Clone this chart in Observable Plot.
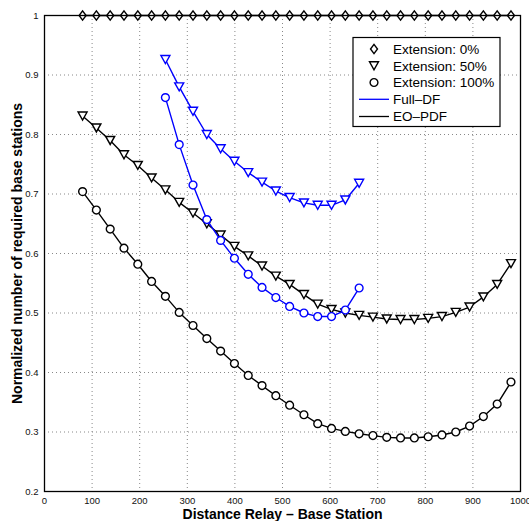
<!DOCTYPE html>
<html><head><meta charset="utf-8">
<script src="https://cdn.jsdelivr.net/npm/d3@7"></script>
<script src="https://cdn.jsdelivr.net/npm/@observablehq/plot@0.6"></script>
<style>body{margin:0;background:#fff}#chart svg{display:block}</style>
</head><body><div id="chart"></div><script>
// Distance Relay – Base Station (x values)
const distance = [80,109,138,167,196,225,254,283,312,341,370,399,428,457,486,515,545,574,603,632,661,690,719,748,777,806,835,864,893,922,951,980];
// EO-PDF series
const eoExt0 = [1,1,1,1,1,1,1,1,1,1,1,1,1,1,1,1,1,1,1,1,1,1,1,1,1,1,1,1,1,1,1,1];
const eoExt50 = [0.831,0.811,0.790,0.766,0.748,0.727,0.707,0.686,0.668,0.650,0.631,0.612,0.596,0.579,0.562,0.548,0.531,0.515,0.506,0.500,0.496,0.493,0.490,0.489,0.489,0.491,0.494,0.501,0.510,0.527,0.548,0.583];
const eoExt100 = [0.704,0.673,0.641,0.609,0.582,0.553,0.528,0.501,0.479,0.457,0.436,0.415,0.395,0.378,0.361,0.345,0.329,0.314,0.306,0.301,0.297,0.294,0.291,0.290,0.290,0.292,0.295,0.300,0.310,0.326,0.347,0.384];
// Full-DF series
const fullDistance = [254,283,312,341,370,399,428,457,486,515,545,574,603,632,661];
const fullExt50 = [0.926,0.880,0.839,0.800,0.776,0.755,0.736,0.720,0.705,0.694,0.685,0.681,0.681,0.690,0.718];
const fullExt100 = [0.862,0.783,0.715,0.657,0.622,0.592,0.565,0.543,0.526,0.511,0.500,0.494,0.494,0.505,0.542];
// ticks and labels
const xTicks = [0,100,200,300,400,500,600,700,800,900,1000];
const yTicks = [0.2,0.3,0.4,0.5,0.6,0.7,0.8,0.9,1];
const xLabel = "Distance Relay – Base Station";
const yLabel = "Normalized number of required base stations";
const legendItems = [
  {label: "Extension: 0%", kind: "diamond"},
  {label: "Extension: 50%", kind: "tri"},
  {label: "Extension: 100%", kind: "circle"},
  {label: "Full–DF", kind: "line", color: "#0000ff"},
  {label: "EO–PDF", kind: "line", color: "#000000"}
];

const BLUE = "#0000ff";
const diamond = {draw(ctx){ ctx.moveTo(0,-4.7); ctx.lineTo(3.5,0); ctx.lineTo(0,4.7); ctx.lineTo(-3.5,0); ctx.closePath(); }};
const triDown = {draw(ctx){ ctx.moveTo(-4.5,-4); ctx.lineTo(4.5,-4); ctx.lineTo(0,4); ctx.closePath(); }};
const circ = {draw(ctx){ ctx.moveTo(3.9,0); ctx.arc(0,0,3.9,0,2*Math.PI); ctx.closePath(); }};

const mk = (xs, ys) => xs.map((x,i)=>({x, y: ys[i]}));
const s0 = mk(distance, eoExt0), s50 = mk(distance, eoExt50), s100 = mk(distance, eoExt100);
const f50 = mk(fullDistance, fullExt50), f100 = mk(fullDistance, fullExt100);

const lineOpts = (c) => ({x:"x", y:"y", stroke:c, strokeWidth:1.4});
const dotOpts = (c, sym) => ({x:"x", y:"y", stroke:c, fill:"white", strokeWidth:1.4, symbol: sym, r: 4});

const plot = Plot.plot({
  width: 529, height: 521,
  marginLeft: 44, marginRight: 9, marginTop: 15, marginBottom: 30,
  style: {fontFamily: "'Liberation Sans', Arial, Helvetica, sans-serif", fontSize: "9.5px", color: "#111", background: "#fff"},
  x: {domain: [0,1000], label: null},
  y: {domain: [0.2,1], label: null},
  marks: [
    Plot.gridX(xTicks, {stroke: "#888", strokeOpacity: 1, strokeDasharray: "1,3", strokeWidth: 1}),
    Plot.gridY(yTicks, {stroke: "#888", strokeOpacity: 1, strokeDasharray: "1,3", strokeWidth: 1}),
    Plot.axisX({ticks: xTicks, tickSize: 0, tickPadding: 6, tickFormat: d => String(d)}),
    Plot.axisY({ticks: yTicks, tickSize: 0, tickPadding: 6, tickFormat: d => String(+d.toFixed(1))}),
    Plot.line(s0, lineOpts("black")),
    Plot.line(s50, lineOpts("black")),
    Plot.line(s100, lineOpts("black")),
    Plot.dot(s0, dotOpts("black", diamond)),
    Plot.dot(s50, dotOpts("black", triDown)),
    Plot.dot(s100, dotOpts("black", circ)),
    Plot.line(f50, lineOpts(BLUE)),
    Plot.line(f100, lineOpts(BLUE)),
    Plot.dot(f50, dotOpts(BLUE, triDown)),
    Plot.dot(f100, dotOpts(BLUE, circ)),
    Plot.frame({stroke: "black", strokeWidth: 1.3}),
    Plot.text([xLabel], {frameAnchor: "bottom", dy: 23, text: d => d, textAnchor: "middle", lineAnchor: "middle", fontWeight: "bold", fontSize: 14, fill: "black"}),
    Plot.text([yLabel], {frameAnchor: "left", dx: -27, rotate: -90, text: d => d, textAnchor: "middle", lineAnchor: "middle", fontWeight: "bold", fontSize: 14, fill: "black"})
  ]
});
document.getElementById("chart").appendChild(plot);

// Legend (drawn in pixel space inside the plot's svg)
const svg = d3.select(plot);
const lg = svg.append("g").attr("font-family", "'Liberation Sans', Arial, Helvetica, sans-serif").attr("font-size", 13.5).attr("text-anchor", "start");
lg.append("rect").attr("x", 353).attr("y", 37.5).attr("width", 147).attr("height", 89)
  .attr("fill", "white").attr("stroke", "black").attr("stroke-width", 1.2);
const rowY = [49, 65.8, 82.5, 99.3, 116.5];
const symPath = {diamond, tri: triDown, circle: circ};
legendItems.forEach((it, i) => {
  const y = rowY[i];
  if (it.kind === "line") {
    lg.append("line").attr("x1", 359).attr("x2", 389).attr("y1", y).attr("y2", y)
      .attr("stroke", it.color).attr("stroke-width", 1.3);
  } else {
    const p = d3.path(); symPath[it.kind].draw(p);
    lg.append("path").attr("d", p.toString()).attr("transform", `translate(374,${y})`)
      .attr("fill", "white").attr("stroke", "black").attr("stroke-width", 1.4);
  }
  lg.append("text").attr("x", 393).attr("y", y).attr("dy", "0.36em").attr("text-anchor", "start").attr("fill", "black").text(it.label);
});
</script></body></html>
